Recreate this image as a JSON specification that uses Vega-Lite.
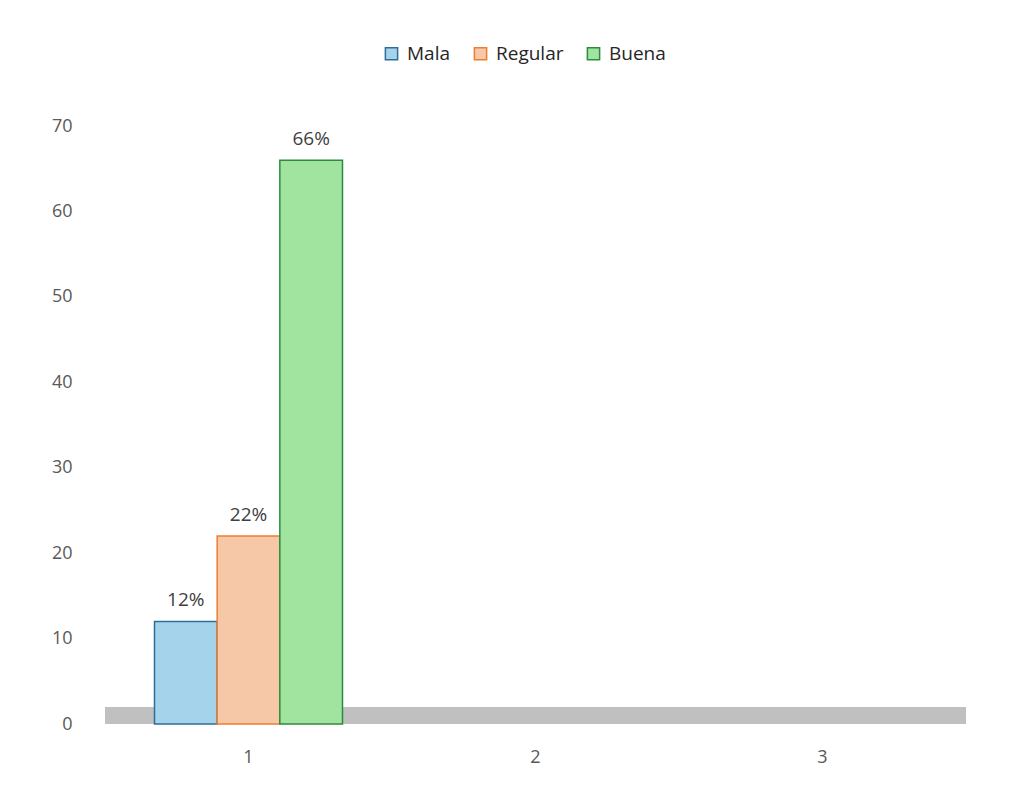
{
  "$schema": "https://vega.github.io/schema/vega-lite/v6.json",
  "width": 861,
  "height": 598,
  "autosize": {"type": "none"},
  "padding": {"left": 105, "top": 126, "right": 48, "bottom": 72},
  "background": "white",
  "config": {
    "view": {"stroke": null},
    "font": "Open Sans",
    "axis": {"grid": false, "domain": false, "ticks": false, "labelColor": "#595959", "labelFontSize": 18, "labelFont": "Open Sans", "title": null}
  },
  "datasets": {
    "barras": [
      {"cat": "1", "serie": "Mala", "valor": 12, "label": "12%"},
      {"cat": "1", "serie": "Regular", "valor": 22, "label": "22%"},
      {"cat": "1", "serie": "Buena", "valor": 66, "label": "66%"}
    ],
    "piso": [{"y0": 0, "y1": 2}]
  },
  "layer": [
    {
      "data": {"name": "piso"},
      "mark": {"type": "rect", "color": "#c0c0c0"},
      "encoding": {
        "y": {"field": "y1", "type": "quantitative", "scale": {"domain": [0, 70]}, "axis": {"values": [0, 10, 20, 30, 40, 50, 60, 70], "labelPadding": 33}},
        "y2": {"field": "y0"}
      }
    },
    {
      "data": {"name": "barras"},
      "mark": {"type": "bar", "strokeWidth": 1.5},
      "encoding": {
        "x": {"field": "cat", "type": "nominal", "scale": {"domain": ["1", "2", "3"], "paddingInner": 0.345, "paddingOuter": 0.1725}, "axis": {"labelAngle": 0, "labelPadding": 24}},
        "xOffset": {"field": "serie", "type": "nominal", "scale": {"domain": ["Mala", "Regular", "Buena"]}},
        "y": {"field": "valor", "type": "quantitative"},
        "fill": {"field": "serie", "type": "nominal", "scale": {"domain": ["Mala", "Regular", "Buena"], "range": ["#a6d3ec", "#f6c8a8", "#a0e4a0"]},
          "legend": {"orient": "none", "legendX": 277, "legendY": -82, "direction": "horizontal", "title": null, "symbolType": "square", "symbolSize": 150, "symbolStrokeWidth": 1.5, "labelFontSize": 19, "labelColor": "#262626", "labelFont": "Open Sans", "columnPadding": 20, "labelOffset": 6}},
        "stroke": {"field": "serie", "type": "nominal", "scale": {"domain": ["Mala", "Regular", "Buena"], "range": ["#2e6d9a", "#ed7d31", "#2e8b3e"]}}
      }
    },
    {
      "data": {"name": "barras"},
      "mark": {"type": "text", "dy": -21, "fontSize": 19, "color": "#404040", "font": "Open Sans"},
      "encoding": {
        "x": {"field": "cat", "type": "nominal"},
        "xOffset": {"field": "serie", "type": "nominal"},
        "y": {"field": "valor", "type": "quantitative"},
        "text": {"field": "label"}
      }
    }
  ]
}
